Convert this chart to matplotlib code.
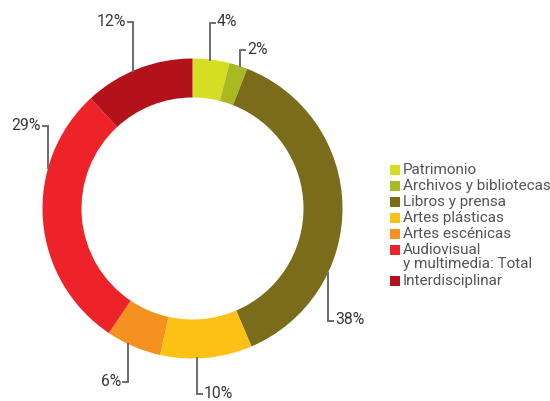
import numpy as np
import matplotlib.pyplot as plt
from matplotlib.patches import Rectangle

categorias = ["Patrimonio", "Archivos y bibliotecas", "Libros y prensa", "Artes plásticas",
              "Artes escénicas", "Audiovisual\ny multimedia: Total", "Interdisciplinar"]
porcentajes = [4, 2, 38, 10, 6, 29, 12]
colores = ["#d6de23", "#aab822", "#7a6c1b", "#fdc015", "#f5921f", "#ee2229", "#b3121b"]

# posicion de las etiquetas: x de la linea guia, y del texto, lado del texto
guias = [(210, 23, 1), (240, 50, 1), (328, 321, 1), (197, 394, 1),
         (128, 382, -1), (48, 126, -1), (133, 22, -1)]

W, H = 550, 401
cx, cy, R = 192.5, 208.5, 150

plt.rcParams['font.family'] = ['Roboto', 'DejaVu Sans']
fig = plt.figure(figsize=(W / 100, H / 100), dpi=100)
ax = fig.add_axes([0, 0, 1, 1])

# eje y invertido: empezar arriba (-90) y avanzar en sentido horario visual
ax.pie(porcentajes, colors=colores, startangle=-90, counterclock=True,
       center=(cx, cy), radius=R, wedgeprops=dict(width=39, linewidth=0),
       frame=True)
ax.set_xlim(0, W)
ax.set_ylim(H, 0)
ax.set_aspect('equal')
ax.axis('off')

for p, (lx, ly, lado) in zip(porcentajes, guias):
    dy = np.sqrt(R ** 2 - (lx - cx) ** 2)
    y0 = cy - dy if ly < cy else cy + dy
    ax.plot([lx, lx, lx + 5 * lado], [y0, ly, ly], color="#6d6d6d", lw=1.4,
            solid_joinstyle='miter')
    ax.text(lx + 7 * lado, ly - 1, f"{p}%", ha='left' if lado > 0 else 'right',
            va='center', fontsize=11.3, color="#383838")

# leyenda
ys = [170, 186, 202, 218, 234, 250, 281]
for nombre, c, y in zip(categorias, colores, ys):
    ax.add_patch(Rectangle((390, y - 5), 10, 10, color=c, lw=0))
    ax.text(403, y - 7 if "\n" in nombre else y, nombre, ha='left',
            va='top' if "\n" in nombre else 'center', fontsize=11,
            color="#555555", linespacing=1.0)

fig.savefig("out.png", dpi=100)
